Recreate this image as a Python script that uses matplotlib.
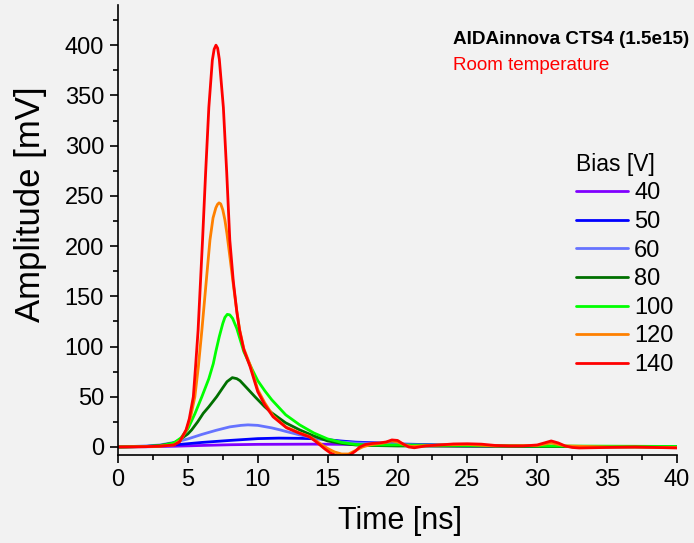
import matplotlib
matplotlib.use("Agg")
import matplotlib.pyplot as plt
from matplotlib.ticker import MultipleLocator

plt.rcParams['font.family'] = ['Liberation Sans', 'DejaVu Sans']

bias_labels = ["40", "50", "60", "80", "100", "120", "140"]
colors = ["#8000ff", "#0000ff", "#6673ff", "#007000", "#00ff00", "#ff8000", "#ff0000"]

t_40 = [0, 2, 4, 6, 8, 10, 14, 16, 18, 20, 25, 30, 40]
v_40 = [0, 0.2, 0.7, 1.5, 2.2, 2.6, 2.8, 2.6, 2.0, 1.5, 0.8, 0.5, 0]

t_50 = [0, 2, 4, 6, 8, 10, 11.5, 13, 14.5, 15.9, 17, 18.7, 20, 25, 30, 35, 40]
v_50 = [0, 0.5, 2, 4.5, 6.5, 8.3, 8.8, 8.6, 8, 6, 4.8, 4, 3, 1.5, 0.8, 0.3, 0]

t_60 = [0, 2, 3, 4, 5, 6, 7, 8, 8.8, 9.3, 10, 11, 11.6, 12, 13, 14, 15, 15.9, 17, 18.7, 20, 25, 30, 40]
v_60 = [0, 1, 2, 4.5, 8, 12.5, 16.5, 20, 21.5, 22, 21.5, 19, 17, 15.5, 12, 9, 7, 5, 4, 3.5, 2.5, 1, 0.6, 0]

t_80 = [0, 2, 3, 4, 4.5, 5, 5.27, 5.7, 6.1, 6.5, 7.06, 7.5, 7.8, 8.18, 8.5, 8.73, 9.2, 9.8, 10.5, 11, 12, 13, 14, 15, 16, 17, 18, 20, 25, 30, 40]
v_80 = [0, 0.5, 1.5, 4, 8, 13, 17, 25, 33.5, 40, 50, 59, 65, 69, 68, 66, 59, 50, 40, 34, 24, 17, 11, 6, 3.5, 2, 1.5, 1, 0.8, 0.5, 0]

t_100 = [0, 2, 3, 4, 4.5, 5, 5.5, 6, 6.5, 6.82, 7, 7.25, 7.5, 7.65, 7.82, 8.0, 8.2, 8.5, 9, 9.5, 10, 10.5, 11, 12, 13, 14, 15, 16, 17, 18, 20, 25, 30, 35, 40]
v_100 = [0, 0.5, 1, 4, 9, 18, 33, 50, 68, 83, 95, 110, 123, 129, 132, 131.5, 128, 118, 95, 80, 66, 56, 47, 32, 22, 14, 8, 4.5, 2.5, 2, 2, 1.5, 1, 0.8, 0.5]

t_120 = [0, 2, 3, 4, 4.5, 4.9, 5.2, 5.5, 5.75, 6, 6.25, 6.58, 6.8, 7, 7.12, 7.23, 7.35, 7.5, 7.65, 7.8, 8, 8.25, 8.5, 8.7, 9, 9.5, 10, 10.5, 11.1, 12, 13, 13.7, 14.2, 14.6, 15, 15.5, 16, 16.5, 17, 17.5, 18, 19, 19.6, 20, 20.5, 21, 23, 25, 27, 30, 31, 32, 35, 40]
v_120 = [0, 0.3, 0.8, 2, 7, 17, 30, 50, 80, 116, 155, 206, 228, 238, 241.5, 243, 242, 236, 226, 212, 190, 162, 135, 117, 98, 80, 57, 44, 31, 20, 14, 10.5, 6, 2, -1.5, -5, -7, -7, -3.5, 0, 2, 4, 6, 5, 2, 0.5, 2, 2.5, 1, 1.5, 4, 1, 0, -0.5]

t_140 = [0, 2, 3, 4, 4.4, 4.87, 5.1, 5.39, 5.55, 5.73, 6.05, 6.27, 6.5, 6.75, 6.88, 7.01, 7.13, 7.25, 7.54, 7.78, 8, 8.25, 8.5, 8.7, 9, 9.45, 10, 10.5, 11.1, 12.07, 13, 13.7, 14.1, 14.45, 14.8, 15.2, 15.6, 16, 16.6, 17, 17.3, 17.7, 18.2, 18.7, 19.2, 19.6, 20, 20.4, 20.8, 21.2, 22, 23, 24, 25, 25.5, 26, 27, 28, 29, 30, 30.5, 31, 31.5, 32, 32.5, 33, 35, 37, 40]
v_140 = [0, 0.3, 0.8, 2, 5, 17, 28, 50, 80, 116, 206, 273, 338, 385, 396, 400, 397, 386, 338, 273, 206, 165, 135, 116, 97, 80, 55, 42, 30, 19, 13.6, 10, 6, 2, -2, -6, -8.5, -9, -8, -4, 0, 2.5, 3.5, 4, 5, 7, 6.5, 3, 0, -0.8, 1, 2, 3, 3.2, 3, 2.8, 1.5, 1, 1, 2, 4, 6, 4, 1, -0.5, -1, -0.5, 0, -1]

series_t = [t_40, t_50, t_60, t_80, t_100, t_120, t_140]
series_v = [v_40, v_50, v_60, v_80, v_100, v_120, v_140]

bg = "#f2f2f2"
fig = plt.figure(figsize=(6.94, 5.43), dpi=100, facecolor=bg)
ax = fig.add_axes([118/694, 1-455/543, (677-118)/694, (455-5)/543])
ax.set_facecolor(bg)

for t, v, c, lab in zip(series_t, series_v, colors, bias_labels):
    ax.plot(t, v, color=c, lw=2.0, label=lab, solid_joinstyle='round', solid_capstyle='round')

ax.set_xlim(0, 40)
ax.set_ylim(-8, 440)
ax.xaxis.set_major_locator(MultipleLocator(5))
ax.xaxis.set_minor_locator(MultipleLocator(2.5))
ax.yaxis.set_major_locator(MultipleLocator(50))
ax.yaxis.set_minor_locator(MultipleLocator(25))
ax.set_yticks(range(0, 401, 50))
for s in ["top", "right"]:
    ax.spines[s].set_visible(False)
for s in ["left", "bottom"]:
    ax.spines[s].set_linewidth(1.2)
ax.tick_params(which='major', direction='out', length=6, width=1.2, labelsize=17, pad=4)
ax.tick_params(which='minor', direction='out', length=3.5, width=1.2)

ax.set_xlabel("Time [ns]", fontsize=22)
ax.set_ylabel("Amplitude [mV]", fontsize=25)
ax.xaxis.set_label_coords((400-118)/559, -(506-455)/450)
ax.yaxis.set_label_coords((30-118)/559, (455-204)/450)
ax.yaxis.label.set_va('center')
ax.xaxis.label.set_va('top')

fig.text(453/694, 1-39/543, "AIDAinnova CTS4 (1.5e15)", fontsize=13.6, fontweight='bold', va='center', ha='left')
fig.text(453/694, 1-65/543, "Room temperature", fontsize=13.6, color='red', va='center', ha='left')

leg = ax.legend(title="Bias [V]", frameon=False, fontsize=17, title_fontsize=16.5,
                loc='upper left', bbox_to_anchor=(571.5/694, 1-148/543), bbox_transform=fig.transFigure,
                handlelength=2.2, handletextpad=0.25, labelspacing=0.28, alignment='left', borderaxespad=0,
                borderpad=0.2)

fig.savefig("out.png", dpi=100, facecolor=bg)
